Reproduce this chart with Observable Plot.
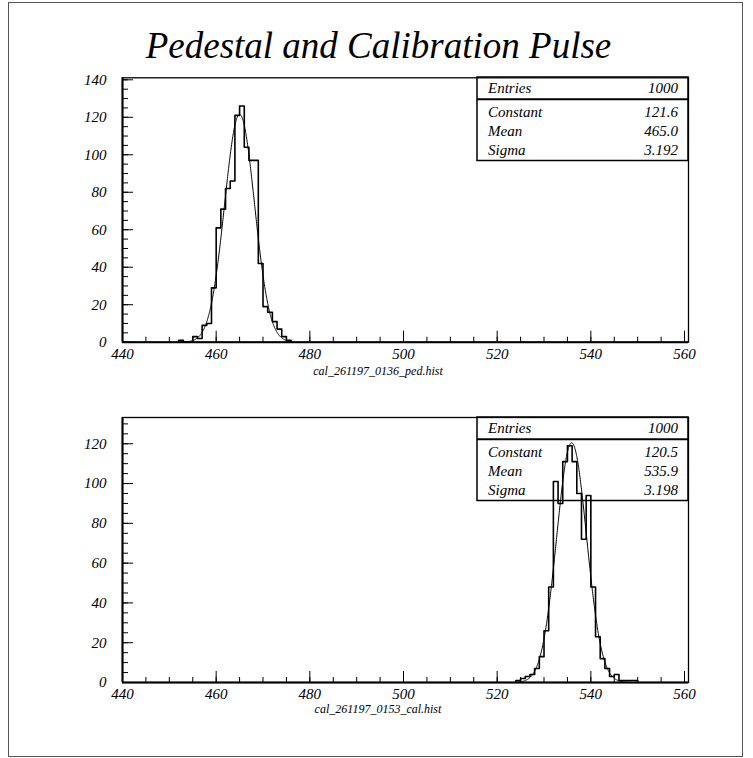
<!DOCTYPE html>
<html><head><meta charset="utf-8">
<script src="https://cdn.jsdelivr.net/npm/d3@7"></script>
<script src="https://cdn.jsdelivr.net/npm/@observablehq/plot@0.6"></script>
<style>
body{margin:0;background:#fff;}
#wrap{position:relative;width:753px;height:758px;overflow:hidden;}
#wrap > svg{position:absolute;left:0;top:0;}
#wrap svg, #wrap svg text{font-family:"Liberation Serif","Times New Roman",serif !important;font-style:italic !important;}
</style>
</head><body><div id="wrap"></div>
<script>
// ---- data ----
const titleText = "Pedestal and Calibration Pulse";
// pedestal histogram: bin lower edges (width 1) and counts
const pedBins   = [452,453,454,455,456,457,458,459,460,461,462,463,464,465,466,467,468,469,470,471,472,473,474,475];
const pedCounts = [1,0,0,3,2,9,10,29,61,71,82,86,121,126,104,97,97,42,19,16,11,7,3,1];
const pedFile = "cal_261197_0136_ped.hist";
const pedStatLabels = ["Entries","Constant","Mean","Sigma"];
const pedStatValues = ["1000","121.6","465.0","3.192"];
const pedFit = {constant: 121.6, mean: 465.0, sigma: 3.192, from: 452, to: 476};

// calibration histogram
const calBins   = [524,525,526,527,528,529,530,531,532,533,534,535,536,537,538,539,540,541,542,543,544,545,546,547,548,549];
const calCounts = [1,2,3,4,7,13,26,48,101,90,111,119,111,95,72,94,48,23,12,7,3,4,1,1,1,1];
const calFile = "cal_261197_0153_cal.hist";
const calStatLabels = ["Entries","Constant","Mean","Sigma"];
const calStatValues = ["1000","120.5","535.9","3.198"];
const calFit = {constant: 120.5, mean: 535.9, sigma: 3.198, from: 524, to: 550};

// axis ticks
const xMajor = [440,460,480,500,520,540,560];
const xMinor = d3.range(440, 561, 5);
const yMajorTop = [0,20,40,60,80,100,120,140];
const yMajorBot = [0,20,40,60,80,100,120];
const yMinorTop = d3.range(0, 141, 5);
const yMinorBot = d3.range(0, 131, 5);

const FONT = "Liberation Serif";
const W = 753, FL = 122, FR = 688;

function panel({bins, counts, fit, ymax, yMajor, yMinor, top, bottom, h}) {
  const steps = [{x: bins[0], y: 0}];
  bins.forEach((b, i) => steps.push({x: b, y: counts[i]}));
  const last = bins[bins.length - 1] + 1;
  steps.push({x: last, y: counts[counts.length - 1]});
  steps.push({x: last, y: 0});
  const fitPts = d3.range(fit.from, fit.to + 0.001, 0.05).map(x => ({
    x, y: fit.constant * Math.exp(-0.5 * ((x - fit.mean) / fit.sigma) ** 2)
  }));
  const fw = FR - FL, fh = bottom - top;
  const txt = {fontSize: 15, fontStyle: "italic", fontFamily: FONT, fill: "#000"};
  return Plot.plot({
    width: W, height: h,
    marginLeft: FL, marginRight: W - FR, marginTop: top, marginBottom: h - bottom,
    x: {domain: [440, 560.85]},
    y: {domain: [0, ymax]},
    style: {fontFamily: FONT, fontStyle: "italic", fontSize: "15px", background: "transparent", overflow: "visible"},
    marks: [
      Plot.tickX(xMinor, {x: d => d, insetTop: fh - 5, stroke: "#000", strokeWidth: 1}),
      Plot.tickX(xMajor, {x: d => d, insetTop: fh - 11, stroke: "#000", strokeWidth: 1}),
      Plot.tickY(yMinor, {y: d => d, insetRight: fw - 6, stroke: "#000", strokeWidth: 1}),
      Plot.tickY(yMajor, {y: d => d, insetRight: fw - 11, stroke: "#000", strokeWidth: 1}),
      Plot.axisX(xMajor, {tickSize: 0, tickPadding: 6, label: null, ...txt}),
      Plot.axisY(yMajor, {tickSize: 0, tickPadding: 16, label: null, ...txt}),
      Plot.line(fitPts, {x: "x", y: "y", stroke: "#000", strokeWidth: 1}),
      Plot.line(steps, {x: "x", y: "y", curve: "step-after", stroke: "#000", strokeWidth: 1.6}),
      Plot.frame({stroke: "#000", strokeWidth: 1.3}),
      Plot.ruleX([440], {stroke: "#000", strokeWidth: 2}),
      Plot.ruleY([0], {stroke: "#000", strokeWidth: 2})
    ]
  });
}

const wrap = document.getElementById("wrap");
wrap.append(panel({bins: pedBins, counts: pedCounts, fit: pedFit, ymax: 141.07, yMajor: yMajorTop, yMinor: yMinorTop, top: 77.3, bottom: 341.7, h: 380}));
wrap.append(panel({bins: calBins, counts: calCounts, fit: calFit, ymax: 133.2, yMajor: yMajorBot, yMinor: yMinorBot, top: 417, bottom: 682, h: 720}));

// overlay: border, title, file names, stat boxes
const svg = d3.select(wrap).append("svg").attr("width", W).attr("height", 758);
svg.append("rect").attr("x", 8.5).attr("y", 2.5).attr("width", 734).attr("height", 754)
  .attr("fill", "none").attr("stroke", "#555").attr("stroke-width", 1);
svg.append("text").attr("x", 378.5).attr("y", 58).attr("text-anchor", "middle")
  .attr("font-size", 37).text(titleText);
svg.append("text").attr("x", 378).attr("y", 375).attr("text-anchor", "middle")
  .attr("font-size", 12).text(pedFile);
svg.append("text").attr("x", 378).attr("y", 713).attr("text-anchor", "middle")
  .attr("font-size", 12).text(calFile);

function statBox(y0, labels, values) {
  const g = svg.append("g");
  const x0 = 477, x1 = 688, h = 83.5;
  g.append("rect").attr("x", x0).attr("y", y0).attr("width", x1 - x0).attr("height", h)
    .attr("fill", "none").attr("stroke", "#000").attr("stroke-width", 1.5);
  g.append("line").attr("x1", x0).attr("x2", x1).attr("y1", y0 + 22.3).attr("y2", y0 + 22.3)
    .attr("stroke", "#000").attr("stroke-width", 2);
  const base = [16, 39.7, 58.7, 78];
  labels.forEach((l, i) => {
    g.append("text").attr("x", 488).attr("y", y0 + base[i]).attr("font-size", 15).text(l);
    g.append("text").attr("x", 678).attr("y", y0 + base[i]).attr("font-size", 15)
      .attr("text-anchor", "end").text(values[i]);
  });
}
statBox(77, pedStatLabels, pedStatValues);
statBox(417, calStatLabels, calStatValues);
</script>
</body></html>
